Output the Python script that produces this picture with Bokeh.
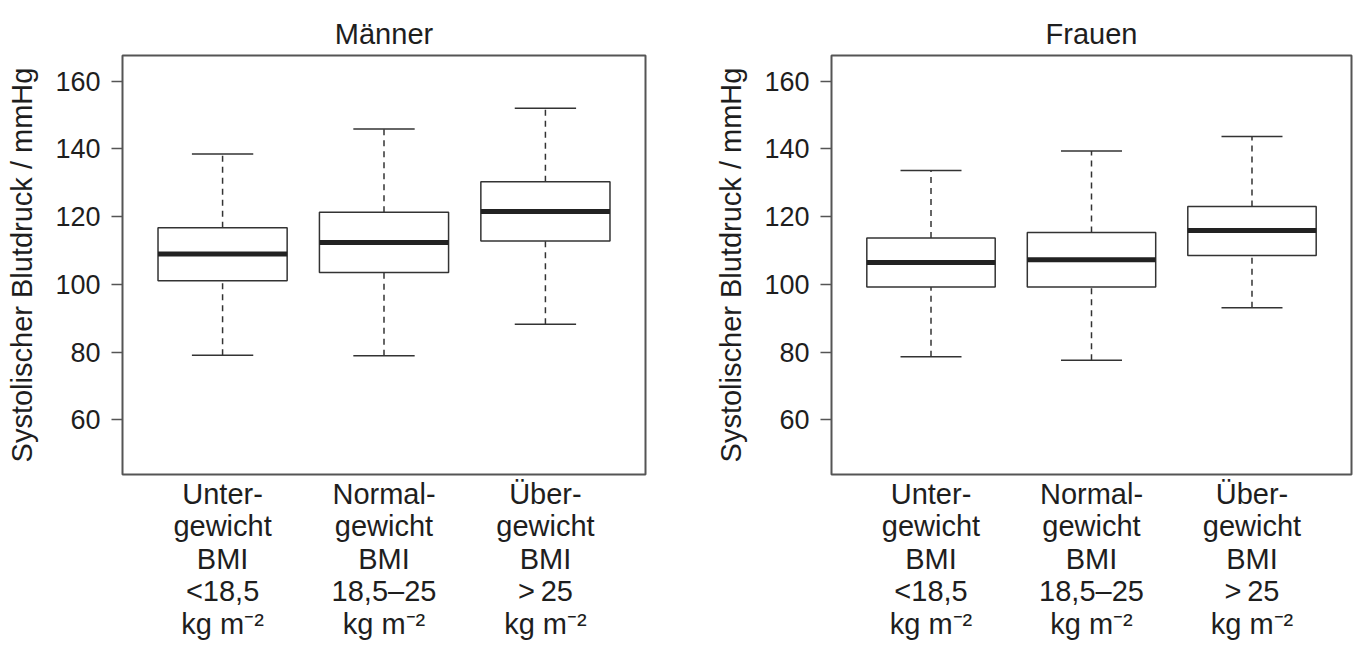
from bokeh.plotting import figure
from bokeh.layouts import row, column
from bokeh.models import FactorRange, Range1d, FixedTicker, ColumnDataSource
from bokeh.core.properties import value
from bokeh.transform import dodge
from bokeh.embed import file_html
from bokeh.resources import INLINE

# ---- data ----
categories = [
    "Unter-\ngewicht\nBMI\n<18,5\nkg m\u207b\u00b2",
    "Normal-\ngewicht\nBMI\n18,5\u201325\nkg m\u207b\u00b2",
    "\u00dcber-\ngewicht\nBMI\n>\u200925\nkg m\u207b\u00b2",
]
panel_titles = ["M\u00e4nner", "Frauen"]
y_label = "Systolischer Blutdruck / mmHg"
y_ticks = [60, 80, 100, 120, 140, 160]

men_lower = [79.1, 78.9, 88.2]
men_q1 = [101.1, 103.5, 112.8]
men_median = [109.0, 112.4, 121.5]
men_q3 = [116.7, 121.3, 130.3]
men_upper = [138.5, 145.9, 152.0]

women_lower = [78.6, 77.6, 93.1]
women_q1 = [99.2, 99.2, 108.5]
women_median = [106.5, 107.3, 115.9]
women_q3 = [113.7, 115.3, 123.0]
women_upper = [133.6, 139.4, 143.7]

Y_MIN, Y_MAX = 43.85, 167.6

FONT = "Liberation Sans"
TXT = "#1e1e1e"
TITLE_H = 53


def make_panel(lower, q1, med, q3, upper, width, mb_left, mb_right):
    p = figure(
        x_range=FactorRange(*categories, range_padding=0.12, range_padding_units="absolute"),
        y_range=Range1d(Y_MIN, Y_MAX),
        width=width, height=654 - TITLE_H, title=None,
        min_border_left=mb_left, min_border_right=mb_right,
        min_border_top=2, min_border_bottom=180,
        output_backend="svg", toolbar_location=None,
    )
    src = ColumnDataSource(dict(cat=categories, lower=lower, q1=q1, med=med, q3=q3, upper=upper))

    # whisker stems (dashed)
    p.segment(x0="cat", y0="q3", x1="cat", y1="upper", source=src,
              line_color="#333333", line_width=1.5, line_dash="6 5")
    p.segment(x0="cat", y0="lower", x1="cat", y1="q1", source=src,
              line_color="#333333", line_width=1.5, line_dash="6 5")
    # caps
    p.segment(x0=dodge("cat", -0.19, range=p.x_range), y0="upper",
              x1=dodge("cat", 0.19, range=p.x_range), y1="upper", source=src,
              line_color="#333333", line_width=1.5)
    p.segment(x0=dodge("cat", -0.19, range=p.x_range), y0="lower",
              x1=dodge("cat", 0.19, range=p.x_range), y1="lower", source=src,
              line_color="#333333", line_width=1.5)
    # boxes
    p.vbar(x="cat", width=0.8, bottom="q1", top="q3", source=src,
           fill_color="white", line_color="#333333", line_width=1.5)
    # medians
    p.segment(x0=dodge("cat", -0.4, range=p.x_range), y0="med",
              x1=dodge("cat", 0.4, range=p.x_range), y1="med", source=src,
              line_color="#222222", line_width=5, line_cap="butt")

    p.grid.grid_line_color = None
    p.outline_line_color = "#555555"
    p.outline_line_width = 2
    p.outline_line_alpha = 1

    p.xaxis.axis_line_color = None
    p.xaxis.major_tick_line_color = None
    p.xaxis.major_tick_out = 0
    p.xaxis.major_tick_in = 0
    p.xaxis.major_label_standoff = 3
    p.xaxis.major_label_text_font = FONT
    p.xaxis.major_label_text_font_size = "29px"
    p.xaxis.major_label_text_line_height = 1.02
    p.xaxis.major_label_text_color = TXT
    p.xaxis.major_label_orientation = "horizontal"

    p.yaxis.ticker = FixedTicker(ticks=y_ticks)
    p.yaxis.axis_line_color = None
    p.yaxis.major_tick_line_color = "#555555"
    p.yaxis.major_tick_line_width = 1.5
    p.yaxis.major_tick_out = 11
    p.yaxis.major_tick_in = 0
    p.yaxis.minor_tick_line_color = None
    p.yaxis.major_label_standoff = 11
    p.yaxis.major_label_text_font = FONT
    p.yaxis.major_label_text_font_size = "27px"
    p.yaxis.major_label_text_color = TXT
    p.yaxis.axis_label = y_label
    p.yaxis.axis_label_text_font = FONT
    p.yaxis.axis_label_text_font_size = "29px"
    p.yaxis.axis_label_text_font_style = "normal"
    p.yaxis.axis_label_text_color = TXT
    p.yaxis.axis_label_standoff = 14
    return p


def make_title(title, panel, width, mb_left, mb_right):
    t = figure(
        x_range=panel.x_range, y_range=Range1d(0, TITLE_H),
        width=width, height=TITLE_H, title=None,
        min_border_left=mb_left, min_border_right=mb_right,
        min_border_top=0, min_border_bottom=0,
        output_backend="svg", toolbar_location=None,
    )
    t.axis.visible = False
    t.grid.grid_line_color = None
    t.outline_line_color = None
    t.text(x=[categories[1]], y=[TITLE_H - 33], text=[title],
           text_align="center", text_baseline="alphabetic",
           text_font=value(FONT), text_font_size="29px", text_color=TXT)
    return t


p1 = make_panel(men_lower, men_q1, men_median, men_q3, men_upper, 700, 122, 55)
p2 = make_panel(women_lower, women_q1, women_median, women_q3, women_upper, 659, 131, 8)
t1 = make_title(panel_titles[0], p1, 700, 122, 55)
t2 = make_title(panel_titles[1], p2, 659, 131, 8)

layout = column(row(t1, t2), row(p1, p2))
open("out.html", "w").write(file_html(layout, INLINE))
